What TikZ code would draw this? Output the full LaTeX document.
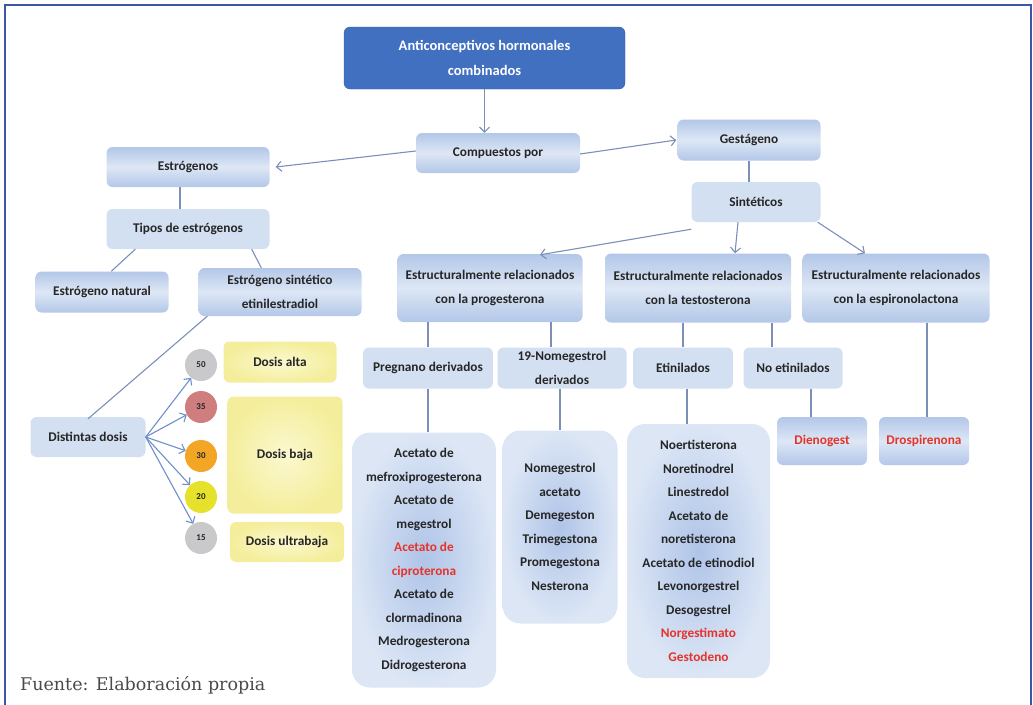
\documentclass[tikz,border=0pt]{standalone}
\usepackage{fontspec}
\setmainfont{Carlito}
\newfontfamily\srcfont{DejaVu Serif}
\usetikzlibrary{positioning,arrows.meta,shadings}

\definecolor{titleblue}{HTML}{4170C0}
\definecolor{titleedge}{HTML}{3560AE}
\definecolor{boxflat}{HTML}{D3E0F2}
\definecolor{boxedge}{HTML}{B3C7E8}
\definecolor{boxmid}{HTML}{DDE7F5}
\definecolor{listin}{HTML}{AFC4E8}
\definecolor{listout}{HTML}{DCE6F5}
\definecolor{dosein}{HTML}{FBF8CF}
\definecolor{doseout}{HTML}{F4EE9C}
\definecolor{dosegray}{HTML}{C9C9CB}
\definecolor{doserose}{HTML}{CF7D7E}
\definecolor{doseorange}{HTML}{F3A625}
\definecolor{doseyellow}{HTML}{E6E12A}
\definecolor{linkgray}{HTML}{7C8FB8}
\definecolor{linkblue}{HTML}{6E8FCB}
\definecolor{drugred}{HTML}{E5332A}
\definecolor{framecol}{HTML}{3A57A8}
\definecolor{srcgray}{HTML}{4A4A4A}

\begin{document}
\begin{tikzpicture}[x=1pt,y=-1pt,node distance=62pt,on grid,
  every node/.style={font=\bfseries\fontsize{13.3}{23.5}\selectfont,align=center,text=black!85},
  box/.style={rounded corners=6pt,minimum height=40pt,inner sep=1pt},
  flatbox/.style={box,fill=boxflat},
  shadebox/.style={box,top color=boxedge,bottom color=boxedge,middle color=boxmid},
  listbox/.style={rounded corners=18pt,inner color=listin,outer color=listout,inner sep=1pt},
  dosebox/.style={box,inner color=dosein,outer color=doseout},
  dose/.style={circle,minimum size=32pt,inner sep=0pt,font=\bfseries\fontsize{9}{10}\selectfont},
  link/.style={draw=linkgray,line width=1.1pt},
  arr/.style={link,-{Straight Barb[length=5pt,width=10pt]}}]
\useasboundingbox (0,0) rectangle (1033,704);
\clip (0,0) rectangle (1033,704);

% frame
\draw[framecol,line width=2pt] (5,720) -- (5,5) -- (1031,5) -- (1031,720);

% top
\node[box,fill=titleblue,draw=titleedge,minimum width=281pt,minimum height=62pt,text=white,
  font=\bfseries\fontsize{14.5}{25}\selectfont] (title) at (484.5,58) {Anticonceptivos hormonales\\combinados};
\node[shadebox,minimum width=164pt] (comp) at (498,153) {Compuestos por};

% estrogenos
\node[shadebox,minimum width=163pt] (estr) at (188,167) {Estrógenos};
\node[flatbox,minimum width=163pt] (tipos) [below=of estr] {Tipos de estrógenos};
\node[shadebox,minimum width=133pt,minimum height=41pt] (natural) at (102,292) {Estrógeno natural};
\node[shadebox,minimum width=163pt,minimum height=48pt] (sintet) [right=178pt of natural] {Estrógeno sintético\\etinilestradiol};
\node[flatbox,minimum width=115pt] (dist) at (88,437) {Distintas dosis};

\node[dosebox,minimum width=113pt,minimum height=41pt] (alta) at (280,362) {Dosis alta};
\node[dosebox,minimum width=115pt,minimum height=117pt] (baja) at (285,455) {Dosis baja};
\node[dosebox,minimum width=114pt] (ultra) at (287,542) {Dosis ultrabaja};

\foreach \v/\y/\c in {50/365/dosegray,35/407/doserose,30/456/doseorange,20/497/doseyellow,15/538/dosegray}{
  \node[dose,fill=\c] (d\v) at (201,\y) {\v};
  \draw[arr,draw=linkblue] (dist.east) -- (d\v);
}

% gestageno
\node[shadebox,minimum width=143pt,minimum height=41pt] (gest) at (749,140) {Gestágeno};
\node[flatbox,minimum width=129pt] (sint) at (756,202) {Sintéticos};
\node[shadebox,minimum width=185pt,minimum height=68pt] (prog) at (490,288) {Estructuralmente relacionados\\con la progesterona};
\node[shadebox,minimum width=186pt,minimum height=69pt] (test) [right=208pt of prog] {Estructuralmente relacionados\\con la testosterona};
\node[shadebox,minimum width=187pt,minimum height=69pt] (espi) [right=198pt of test] {Estructuralmente relacionados\\con la espironolactona};

\node[flatbox,minimum width=130pt,minimum height=41pt] (pregn) at (428,368) {Pregnano derivados};
\node[flatbox,minimum width=129pt,minimum height=41pt] (nom19) [right=134pt of pregn] {19-Nomegestrol\\derivados};
\node[flatbox,minimum width=100pt,minimum height=41pt] (etin) [right=121pt of nom19] {Etinilados};
\node[flatbox,minimum width=99pt,minimum height=41pt] (noetin) [right=110pt of etin] {No etinilados};

\node[listbox,minimum width=144pt,minimum height=255pt] (plist) at (424,560) {Acetato de\\mefroxiprogesterona\\Acetato de\\megestrol\\
  \textcolor{drugred}{Acetato de}\\\textcolor{drugred}{ciproterona}\\Acetato de\\clormadinona\\Medrogesterona\\Didrogesterona};
\node[listbox,minimum width=115pt,minimum height=193pt] (nlist) at (560,527) {Nomegestrol\\acetato\\Demegeston\\Trimegestona\\Promegestona\\Nesterona};
\node[listbox,minimum width=143pt,minimum height=254pt] (elist) at (698.5,551) {Noertisterona\\Noretinodrel\\Linestredol\\Acetato de\\noretisterona\\
  Acetato de etinodiol\\Levonorgestrel\\Desogestrel\\\textcolor{drugred}{Norgestimato}\\\textcolor{drugred}{Gestodeno}};
\node[shadebox,minimum width=90pt,minimum height=48pt,text=drugred] (dien) at (822,441) {Dienogest};
\node[shadebox,minimum width=90pt,minimum height=48pt,text=drugred] (drosp) [right=102pt of dien] {Drospirenona};

\node[anchor=base west,inner sep=0pt,font=\srcfont\fontsize{17.5}{20}\selectfont,text=srcgray] (fuente) at (20,690) {Fuente: Elaboración propia};

% connectors
\draw[arr] (title.south) -- (title.south |- comp.north);
\draw[arr] ([yshift=2pt]comp.west) -- ([xshift=6pt]estr.east);
\draw[arr] ([yshift=-1pt]comp.east) -- ([xshift=-1pt]gest.west);
\draw[link] ([xshift=-8pt]estr.south) -- ([xshift=-8pt]tipos.north);
\draw[link] ([xshift=29pt]tipos.south west) -- ([xshift=76pt]natural.north west);
\draw[link] ([xshift=-18pt]tipos.south east) -- ([xshift=63pt]sintet.north west);
\draw[link] ([xshift=9pt]sintet.south west) -- ([yshift=-2pt]dist.north);
\draw[link] (gest.south) -- (gest.south |- sint.north);
\draw[arr] ([yshift=-7pt]sint.south west) -- ([xshift=50pt,yshift=-1pt]prog.north);
\draw[arr] ([xshift=-18pt]sint.south) -- ([xshift=37pt]test.north);
\draw[arr] ([xshift=-3pt]sint.south east) -- ([xshift=-31pt]espi.north);
\draw[link] (pregn.north |- prog.south) -- (pregn.north);
\draw[link] ([xshift=-11pt]nom19.north |- prog.south) -- ([xshift=-11pt]nom19.north);
\draw[link] (etin.north |- test.south) -- (etin.north);
\draw[link] ([xshift=-21pt]noetin.north |- test.south) -- ([xshift=-21pt]noetin.north);
\draw[link] (pregn.south) -- (pregn.south |- plist.north);
\draw[link] (nlist.north |- nom19.south) -- (nlist.north);
\draw[link] ([xshift=4pt]etin.south) -- ([xshift=4pt]etin.south |- elist.north);
\draw[link] ([xshift=-11pt]dien.north |- noetin.south) -- ([xshift=-11pt]dien.north);
\draw[link] ([xshift=3pt]drosp.north |- espi.south) -- ([xshift=3pt]drosp.north);
\end{tikzpicture}
\end{document}
